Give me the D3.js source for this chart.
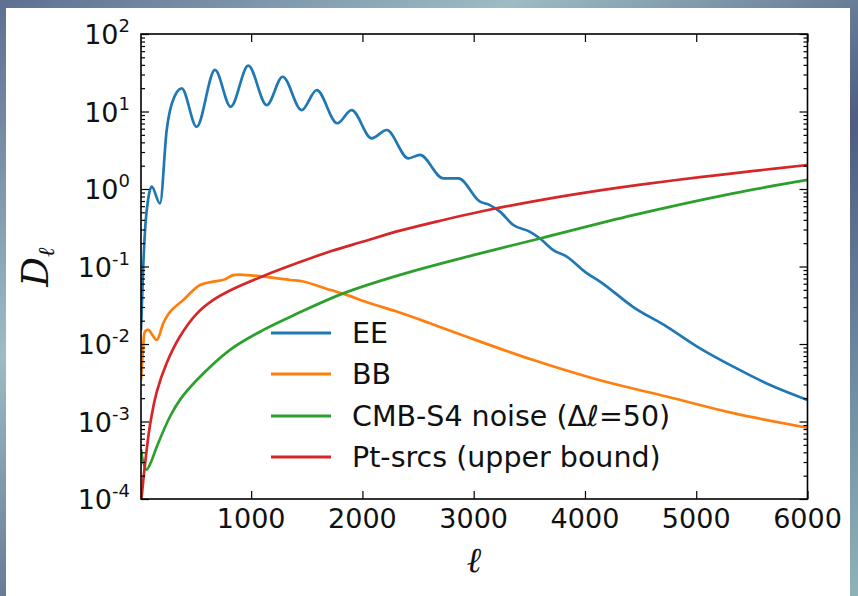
<!DOCTYPE html>
<html><head><meta charset="utf-8">
<script src="https://cdn.jsdelivr.net/npm/d3@7"></script>
<style>body{margin:0;overflow:hidden;background:#fff;} svg{display:block;}</style>
</head><body><svg id="c" width="858" height="596"></svg>
<script>
// ---- data ----
const eeEll = [10, 30, 50, 75, 106, 181, 241, 290, 376, 510, 675, 816, 974, 1140, 1283, 1454, 1589, 1774, 1903, 2083, 2218, 2412, 2517, 2727, 2862, 3057, 3146, 3236, 3356, 3506, 3596, 3715, 3836, 4016, 4135, 4434, 4734, 5034, 5333, 5633, 6000];
const eeVal = [0.015, 0.1, 0.35, 0.75, 1.07, 0.65, 5.77, 13, 19.9, 6.36, 34.4, 11.5, 39, 12.1, 28.1, 10.4, 18.9, 7.05, 10.4, 4.51, 5.77, 2.49, 2.75, 1.37, 1.37, 0.686, 0.62, 0.51, 0.343, 0.28, 0.23, 0.163, 0.134, 0.082, 0.064, 0.030, 0.0168, 0.0088, 0.0051, 0.0031, 0.0019];

const bbEll = [10, 30, 46, 76, 151, 210, 271, 390, 540, 660, 760, 840, 960, 1110, 1349, 1469, 1708, 1858, 2068, 2308, 2607, 2937, 3536, 4135, 4734, 5333, 6000];
const bbVal = [0.0034, 0.009, 0.0145, 0.0152, 0.0113, 0.0185, 0.026, 0.037, 0.0578, 0.0637, 0.068, 0.0775, 0.0775, 0.074, 0.067, 0.064, 0.050, 0.043, 0.0335, 0.0262, 0.0185, 0.0124, 0.0062, 0.0034, 0.0021, 0.00128, 0.00083];

const noiseEll = [10, 30, 61, 100, 151, 271, 360, 510, 810, 1110, 1409, 1828, 2338, 2996, 3596, 4434, 5333, 6000];
const noiseVal = [0.00044, 0.0003, 0.00024, 0.0003, 0.00047, 0.00116, 0.0019, 0.0034, 0.0084, 0.0152, 0.0245, 0.045, 0.078, 0.14, 0.23, 0.46, 0.88, 1.31];

const ptEll = [14, 46, 91, 151, 241, 360, 510, 660, 810, 1110, 1408, 1708, 2008, 2338, 2700, 3085, 3600, 4135, 4500, 5034, 5500, 6000];
const ptVal = [0.0001, 0.00028, 0.0009, 0.0024, 0.0057, 0.0125, 0.0245, 0.037, 0.049, 0.0755, 0.11, 0.156, 0.21, 0.29, 0.39, 0.52, 0.72, 0.96, 1.14, 1.42, 1.70, 2.04];

const seriesNames = ["EE", "BB", "CMB-S4 noise", "Pt-srcs (upper bound)"];
const seriesColors = ["#1f77b4", "#ff7f0e", "#2ca02c", "#d62728"];
const xTicks = [1000, 2000, 3000, 4000, 5000, 6000];
const yExps = [2, 1, 0, -1, -2, -3, -4];

// ---- layout ----
const W = 858, H = 596;
const L = 141, R = 807.5, T = 34, B = 499;
const svg = d3.select("#c");

const defs = svg.append("defs");
const g1 = defs.append("linearGradient").attr("id", "bg").attr("x1", 0).attr("y1", 0).attr("x2", 1).attr("y2", 1);
g1.append("stop").attr("offset", 0).attr("stop-color", "#5d6f92");
g1.append("stop").attr("offset", 0.3).attr("stop-color", "#9dbcc4");
g1.append("stop").attr("offset", 0.6).attr("stop-color", "#4e5d80");
g1.append("stop").attr("offset", 1).attr("stop-color", "#8fb2b8");
svg.append("rect").attr("width", W).attr("height", H).attr("fill", "url(#bg)");
svg.append("rect").attr("x", 6).attr("y", 8).attr("width", 844).attr("height", H - 8).attr("fill", "#fff");

defs.append("clipPath").attr("id", "clip").append("rect")
  .attr("x", L).attr("y", T).attr("width", R - L).attr("height", B - T);

const x = d3.scaleLinear().domain([10, 6000]).range([L, R]);
const y = d3.scaleLog().domain([1e-4, 1e2]).range([B, T]);

const curves = [d3.curveMonotoneX, d3.curveCatmullRom.alpha(0.5), d3.curveCatmullRom.alpha(0.5), d3.curveCatmullRom.alpha(0.5)];
const series = [
  d3.zip(eeEll, eeVal), d3.zip(bbEll, bbVal), d3.zip(noiseEll, noiseVal), d3.zip(ptEll, ptVal)
];
const plot = svg.append("g").attr("clip-path", "url(#clip)");
series.forEach((s, i) => {
  const line = d3.line().x(d => x(d[0])).y(d => y(d[1])).curve(curves[i]);
  plot.append("path").datum(s).attr("d", line).attr("fill", "none")
    .attr("stroke", seriesColors[i]).attr("stroke-width", 2.7).attr("stroke-linejoin", "round");
});

// ---- axes (ticks inward on all sides) ----
const majorY = yExps.map(e => Math.pow(10, e));
const minorY = [];
for (let e = -4; e < 2; e++) for (let k = 2; k <= 9; k++) minorY.push(k * Math.pow(10, e));

function styleAxis(g) {
  g.select(".domain").remove();
  g.selectAll("line").attr("stroke", "#000").attr("stroke-width", 1.2);
  g.selectAll("text").remove();
}
svg.append("g").attr("transform", `translate(0,${B})`)
  .call(d3.axisBottom(x).tickValues(xTicks).tickSize(-8).tickFormat("")).call(styleAxis);
svg.append("g").attr("transform", `translate(0,${T})`)
  .call(d3.axisTop(x).tickValues(xTicks).tickSize(-8).tickFormat("")).call(styleAxis);
svg.append("g").attr("transform", `translate(${L},0)`)
  .call(d3.axisLeft(y).tickValues(majorY).tickSize(-8).tickFormat("")).call(styleAxis);
svg.append("g").attr("transform", `translate(${L},0)`)
  .call(d3.axisLeft(y).tickValues(minorY).tickSize(-4).tickFormat("")).call(styleAxis);
svg.append("g").attr("transform", `translate(${R},0)`)
  .call(d3.axisRight(y).tickValues(majorY).tickSize(-8).tickFormat("")).call(styleAxis);
svg.append("g").attr("transform", `translate(${R},0)`)
  .call(d3.axisRight(y).tickValues(minorY).tickSize(-4).tickFormat("")).call(styleAxis);

svg.append("rect").attr("x", L).attr("y", T).attr("width", R - L).attr("height", B - T)
  .attr("fill", "none").attr("stroke", "#000").attr("stroke-width", 1.6);

const font = "'DejaVu Sans', sans-serif";
// x tick labels
svg.append("g").selectAll("text").data(xTicks).join("text")
  .attr("x", d => x(d)).attr("y", B + 29).attr("text-anchor", "middle")
  .attr("font-family", font).attr("font-size", 27).attr("fill", "#111").text(d => d);

// y tick labels
const yl = svg.append("g").selectAll("text").data(yExps).join("text")
  .attr("x", 130).attr("y", d => y(Math.pow(10, d)) + 10).attr("text-anchor", "end")
  .attr("font-family", font).attr("font-size", 27).attr("fill", "#111");
yl.append("tspan").text("10");
yl.append("tspan").attr("font-size", 18).attr("dy", -12).text(d => d < 0 ? "-" + (-d) : d);

// axis labels
svg.append("text").attr("transform", `translate(48,267) rotate(-90)`).attr("text-anchor", "middle")
  .attr("font-family", "'DejaVu Serif', serif").attr("font-style", "italic").attr("font-size", 37).attr("fill", "#111")
  .call(t => { t.append("tspan").text("D"); t.append("tspan").attr("font-size", 23).attr("dy", 6).text("ℓ"); });
svg.append("text").attr("x", 474).attr("y", 572).attr("text-anchor", "middle")
  .attr("font-family", "'DejaVu Serif', serif").attr("font-style", "italic").attr("font-size", 35).attr("fill", "#111").text("ℓ");

// legend
const legY = [333, 374, 416, 457];
const leg = svg.append("g").selectAll("g").data(seriesNames).join("g")
  .attr("transform", (d, i) => `translate(0,${legY[i]})`);
leg.append("line").attr("x1", 271).attr("x2", 331).attr("y1", 0).attr("y2", 0)
  .attr("stroke", (d, i) => seriesColors[i]).attr("stroke-width", 3);
const lt = leg.append("text").attr("x", 352).attr("y", 0).attr("dy", "0.36em")
  .attr("font-family", font).attr("font-size", 28.5).attr("fill", "#111");
lt.each(function(d, i) {
  const t = d3.select(this);
  if (i === 2) {
    t.append("tspan").text("CMB-S4 noise (Δ");
    t.append("tspan").attr("font-style", "italic").text("ℓ");
    t.append("tspan").text("=50)");
  } else t.text(d);
});
</script></body></html>
